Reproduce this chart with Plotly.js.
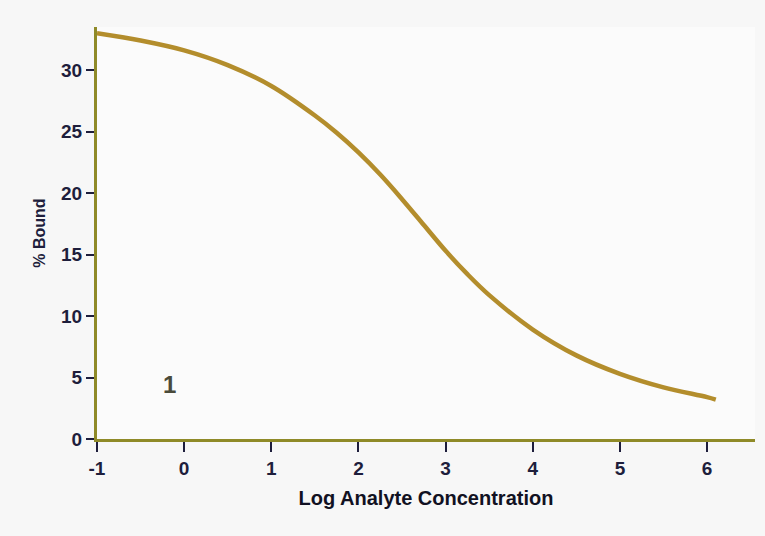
<!DOCTYPE html>
<html>
<head>
<meta charset="utf-8">
<script src="https://cdn.plot.ly/plotly-3.0.1.min.js"></script>
<style>html,body{margin:0;padding:0;background:#f7f7f7;}#chart{width:765px;height:536px;}</style>
</head>
<body>
<div id="chart"></div>
<script>
// Log analyte concentration (x) and % bound (y)
const logConc = [-1, -0.5, 0, 0.5, 1, 1.5, 1.75, 2, 2.25, 2.5, 2.75, 3, 3.25, 3.5, 4, 4.5, 5, 5.5, 6, 6.1];
const pctBound = [33.0, 32.4, 31.6, 30.4, 28.7, 26.3, 24.9, 23.3, 21.5, 19.5, 17.4, 15.3, 13.4, 11.7, 8.9, 6.8, 5.3, 4.2, 3.4, 3.2];
const xTicks = [-1, 0, 1, 2, 3, 4, 5, 6];
const yTicks = [0, 5, 10, 15, 20, 25, 30];
const curveLabel = "1";
const curveLabelPos = [-0.17, 4.4];

const textColor = "#1e1e3c";
const axisColor = "#8f8a28";
const fontFam = "'Liberation Sans', Arial, sans-serif";

const trace = {
  x: logConc,
  y: pctBound,
  type: "scatter",
  mode: "lines",
  line: {color: "#b38d2c", width: 4.5, shape: "spline", smoothing: 1},
  hoverinfo: "x+y",
  showlegend: false
};

const layout = {
  width: 765,
  height: 536,
  margin: {l: 97, r: 10, t: 27, b: 97},
  paper_bgcolor: "#f7f7f7",
  plot_bgcolor: "#fbfbfb",
  font: {family: fontFam, color: textColor, size: 18},
  xaxis: {
    range: [-1, 6.55],
    tickvals: xTicks,
    ticktext: xTicks.map(v => "<b>" + v + "</b>"),
    ticks: "outside",
    ticklen: 10,
    tickwidth: 2,
    tickcolor: textColor,
    tickfont: {family: fontFam, size: 19, color: textColor},
    showgrid: false,
    zeroline: false,
    showline: true,
    linecolor: axisColor,
    linewidth: 3,
    title: {text: "<b>Log Analyte Concentration</b>", font: {family: fontFam, size: 20, color: "#111122"}, standoff: 14}
  },
  yaxis: {
    range: [0, 33.5],
    tickvals: yTicks,
    ticktext: yTicks.map(v => "<b>" + v + "</b>"),
    ticks: "outside",
    ticklen: 8,
    tickwidth: 2,
    tickcolor: textColor,
    tickfont: {family: fontFam, size: 19, color: textColor},
    showgrid: false,
    zeroline: false,
    showline: true,
    linecolor: axisColor,
    linewidth: 3,
    title: {text: "<b>% Bound</b>", font: {family: fontFam, size: 16, color: textColor}, standoff: 12}
  },
  annotations: [{
    x: curveLabelPos[0], y: curveLabelPos[1], xref: "x", yref: "y",
    text: "<b>" + curveLabel + "</b>", showarrow: false,
    font: {family: fontFam, size: 24, color: "#4a4a3a"}
  }]
};

Plotly.newPlot("chart", [trace], layout, {displayModeBar: false, staticPlot: false});
</script>
</body>
</html>
